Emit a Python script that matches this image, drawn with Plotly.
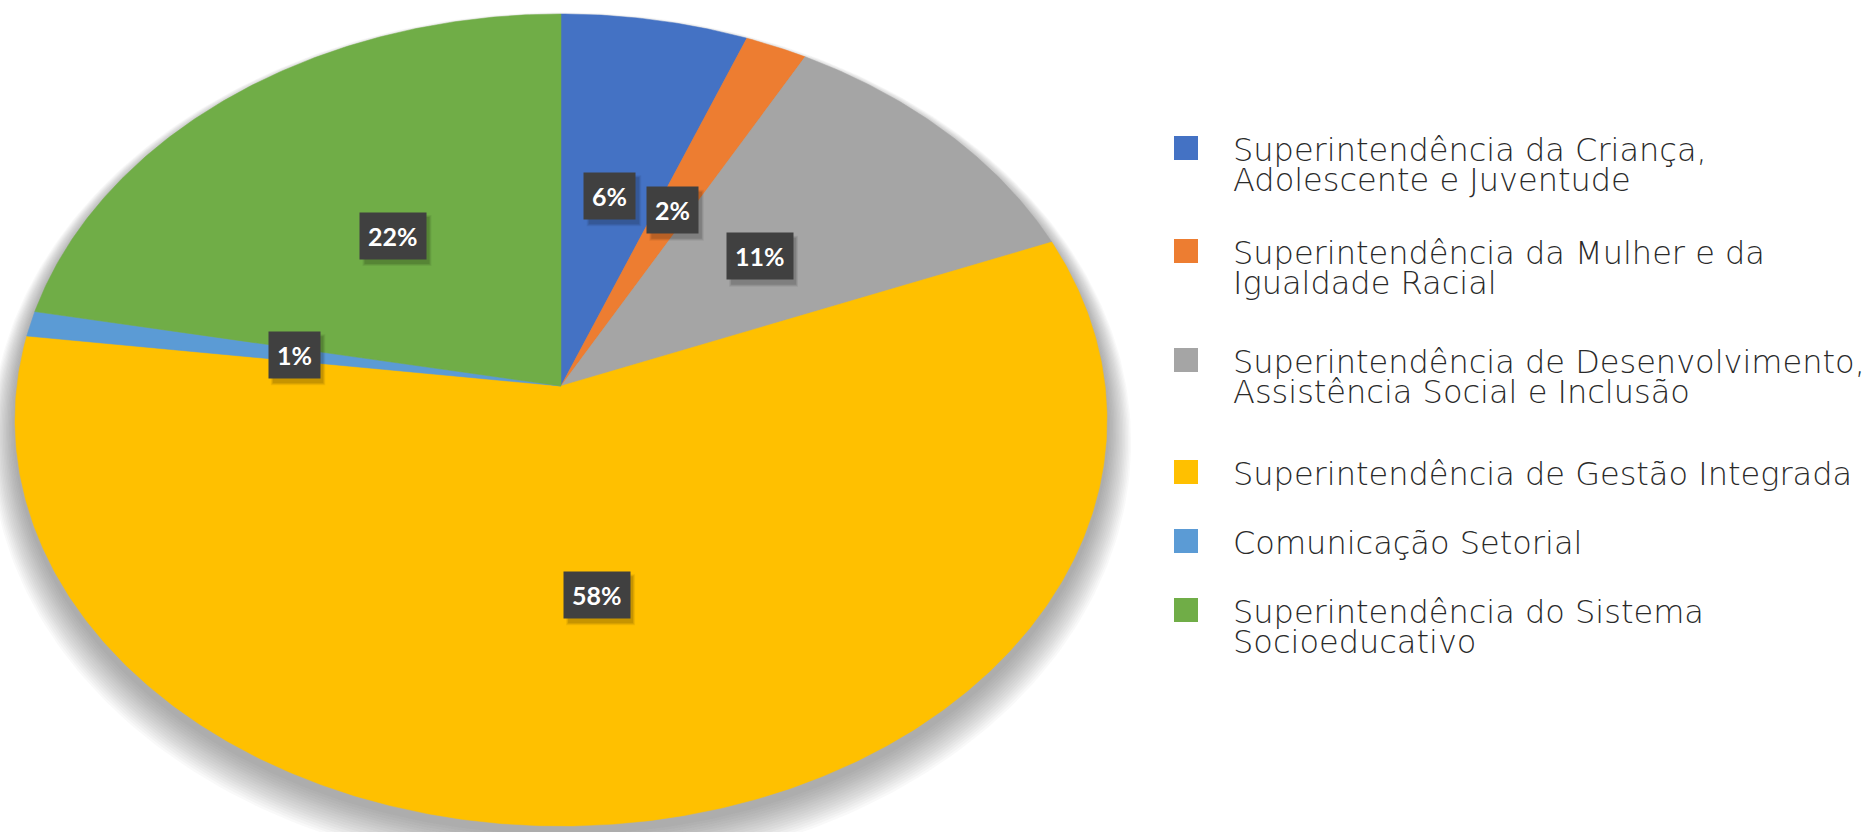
import numpy as np
import plotly.graph_objects as go

# ---------------- data ----------------
categories = [
    ["Superintendência da Criança,", "Adolescente e Juventude"],
    ["Superintendência da Mulher e da", "Igualdade Racial"],
    ["Superintendência de Desenvolvimento,", "Assistência Social e Inclusão"],
    ["Superintendência de Gestão Integrada"],
    ["Comunicação Setorial"],
    ["Superintendência do Sistema", "Socioeducativo"],
]
values = [6, 2, 11, 58, 1, 22]
colors = ["#4472C4", "#ED7D31", "#A5A5A5", "#FFC000", "#5B9BD5", "#70AD47"]

# ---------------- geometry (pixel space, tilted pie) ----------------
W, H = 1876, 832
CX, CY = 561, 386           # projected pie centre
R_TOP, R_BOT, R_SIDE = 372, 440, 546
K = (R_BOT / R_TOP - 1) / (R_BOT / R_TOP + 1)     # perspective factor
B = R_TOP * (1 + K)
A = R_SIDE * np.sqrt(1 - K * K)


def proj(theta, f=1.0, grow=0.0, dy=0.0):
    """theta clockwise from 12 o'clock; returns screen x, y (y downward)."""
    u = f * np.sin(theta)
    v = f * np.cos(theta)
    d = 1 + K * v
    x = CX + (A + grow) * u / d
    y = CY - (B + grow) * v / d + dy
    return x, y


fig = go.Figure()

# soft drop shadow
full = np.linspace(0, 2 * np.pi, 361)
for k in range(16, 0, -1):
    sx, sy = proj(full, grow=k * 1.5, dy=6 + k * 0.9)
    fig.add_trace(go.Scatter(x=sx, y=sy, mode="lines", fill="toself",
                             fillcolor="rgba(70,70,70,0.03)",
                             line=dict(width=0), hoverinfo="skip",
                             showlegend=False))

total = sum(values)
cum = 0.0
label_pts = []
for v, col in zip(values, colors):
    a0 = cum / total * 2 * np.pi
    a1 = (cum + v) / total * 2 * np.pi
    th = np.linspace(a0, a1, max(4, int(v * 8)))
    xs, ys = proj(th)
    x = np.concatenate([[CX], xs, [CX]])
    y = np.concatenate([[CY], ys, [CY]])
    fig.add_trace(go.Scatter(x=x, y=y, mode="lines", fill="toself",
                             fillcolor=col, line=dict(width=0.5, color=col),
                             hoverinfo="skip", showlegend=False))
    mx, my = proj((a0 + a1) / 2, 0.5)
    label_pts.append((float(mx), float(my), f"{v}%"))
    cum += v

# data labels with soft box shadow
for mx, my, txt in label_pts:
    w = 16 + 14.5 * (len(txt) - 1) + 21
    h = 48
    for s, a in ((7, 0.06), (5, 0.08), (3, 0.10)):
        fig.add_shape(type="rect", x0=mx - w / 2 + 6 - s / 2, x1=mx + w / 2 + 2 + s / 2,
                      y0=my - h / 2 + 7 - s / 2, y1=my + h / 2 + 3 + s / 2,
                      fillcolor=f"rgba(0,0,0,{a})", line=dict(width=0), layer="above")
    fig.add_annotation(x=mx, y=my, text=f"<b>{txt}</b>", showarrow=False,
                       font=dict(family="Lato", size=25, color="white"),
                       bgcolor="#404040", borderpad=8)

# legend (manual)
leg_y = [148, 251, 360, 472, 541, 610]
LINE = 30
for lines, col, yy in zip(categories, colors, leg_y):
    fig.add_shape(type="rect", x0=1174, x1=1198, y0=yy - 12, y1=yy + 12,
                  fillcolor=col, line=dict(width=0))
    for i, ln in enumerate(lines):
        fig.add_annotation(x=1231, y=yy + 2 + i * LINE, text=ln, showarrow=False,
                           xanchor="left", yanchor="middle", align="left",
                           font=dict(family="DejaVu Sans", size=32,
                                     color="#2a2a2a", weight=200))

fig.update_layout(
    width=W, height=H,
    margin=dict(l=0, r=0, t=0, b=0),
    paper_bgcolor="white", plot_bgcolor="white",
    xaxis=dict(range=[0, W], visible=False, fixedrange=True),
    yaxis=dict(range=[H, 0], visible=False, fixedrange=True),
    showlegend=False,
)

fig.write_html("out.html",
               config={"displayModeBar": False, "staticPlot": True},
               post_script="document.body.style.margin='0px';"
                           "document.body.style.overflow='hidden';")
